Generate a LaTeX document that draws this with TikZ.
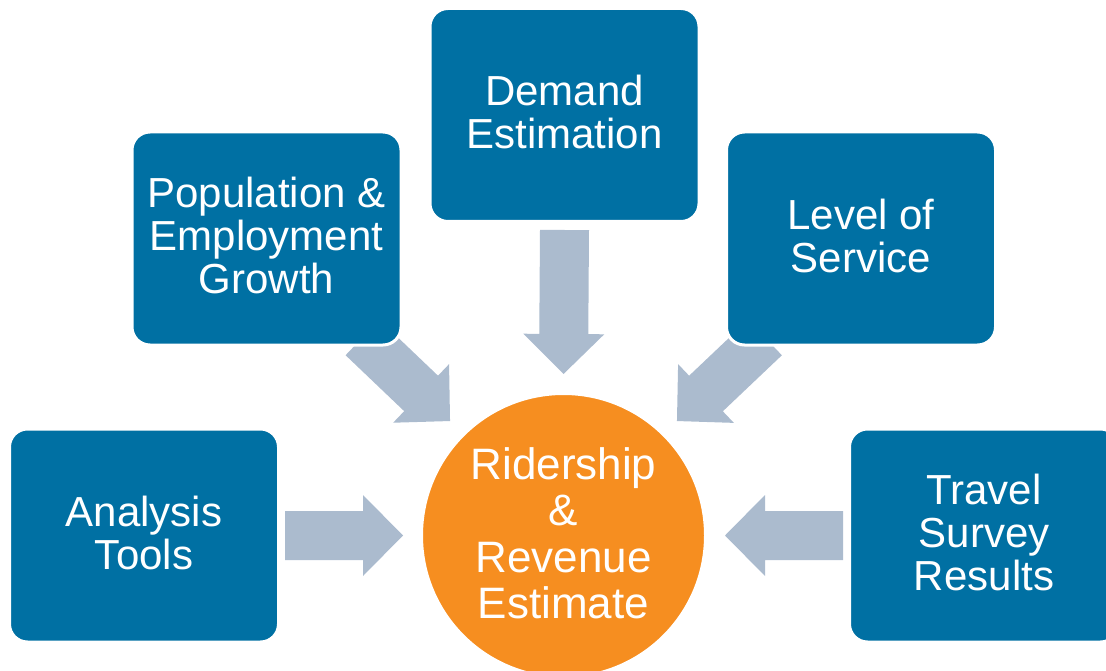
\documentclass[tikz,border=0pt]{standalone}
\usepackage{fontspec}
\setmainfont{Liberation Sans}
\usetikzlibrary{calc,backgrounds}
\definecolor{boxblue}{RGB}{0,112,163}
\definecolor{arrowgray}{RGB}{171,187,206}
\definecolor{coreorange}{RGB}{246,142,32}
\newcommand\flowarrow[2]{%
  \coordinate (bah) at ($(#2)!40pt!(#1)$);
  \fill[arrowgray] ($(#1)!24.5pt!90:(#2)$) -- ($(bah)!24.5pt!90:(#2)$)
    -- ($(bah)!40.5pt!90:(#2)$) -- (#2) -- ($(bah)!40.5pt!-90:(#2)$)
    -- ($(bah)!24.5pt!-90:(#2)$) -- ($(#1)!24.5pt!-90:(#2)$) -- cycle;}
\tikzset{
  inputbox/.style={rectangle, rounded corners=18pt, fill=boxblue, draw=white,
    line width=3pt, minimum width=269pt, minimum height=213pt, text=white,
    align=center, font=\fontsize{42}{43}\selectfont,
    execute at end node={\rule[-6pt]{0pt}{6pt}}},
  corebox/.style={circle, fill=coreorange, draw=white, line width=3pt,
    minimum size=284pt, inner sep=0pt, text=white, align=center,
    font=\fontsize{44}{46.5}\selectfont,
    execute at end node={\rule[-5pt]{0pt}{5pt}}}
}
\begin{document}
\begin{tikzpicture}[x=1pt,y=-1pt]
\useasboundingbox (0,0) rectangle (1106,671);
\clip (0,0) rectangle (1106,671);
\node[inputbox] (demand) at (564.5,115) {Demand\\Estimation};
\node[inputbox] (pop) at (266.5,238.5) {Population \&\\Employment\\Growth};
\node[inputbox] (los) at (861,238.5) {Level of\\Service};
\node[inputbox] (analysis) at (144,535.5) {Analysis\\Tools};
\node[inputbox] (travel) at (984,535.5) {Travel\\Survey\\Results};
\node[corebox] (core) at (563.5,535.5) {Ridership\\\&\\Revenue\\Estimate};
\begin{scope}[on background layer]
  \coordinate (dA) at ([yshift=-7pt]demand.south);
  \coordinate (dB) at ([yshift=18pt]core.north);
  \flowarrow{dA}{dB}
  \coordinate (aA) at ([xshift=5pt]analysis.east);
  \coordinate (aB) at ([xshift=-17pt]core.west);
  \flowarrow{aA}{aB}
  \coordinate (tA) at ([xshift=-5pt]travel.west);
  \coordinate (tB) at ([xshift=18pt]core.east);
  \flowarrow{tA}{tB}
  \coordinate (pA) at ([shift={(-40pt,9pt)}]pop.south east);
  \coordinate (pB) at ([shift={(-12pt,13pt)}]core.135);
  \flowarrow{pA}{pB}
  \coordinate (lA) at ([shift={(40pt,9pt)}]los.south west);
  \coordinate (lB) at ([shift={(12pt,13pt)}]core.45);
  \flowarrow{lA}{lB}
\end{scope}
\end{tikzpicture}
\end{document}
